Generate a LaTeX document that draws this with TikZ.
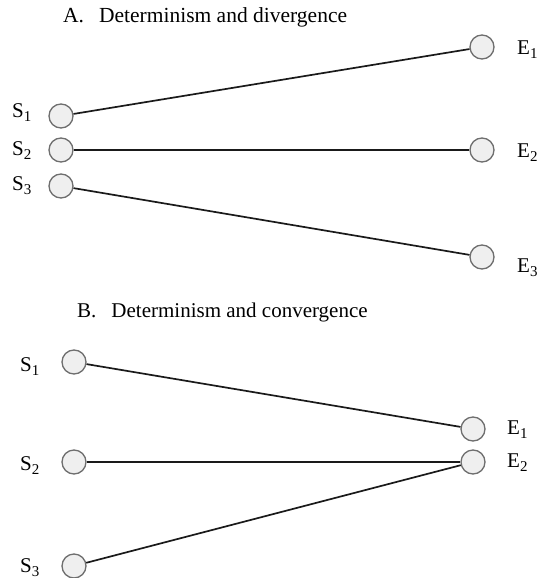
\documentclass[tikz,border=0pt]{standalone}
\usepackage{fontspec}
\setmainfont{Liberation Serif}
\usetikzlibrary{positioning}
\definecolor{ringgray}{HTML}{6E6E6E}
\definecolor{ballfill}{HTML}{EFEFEF}
\definecolor{linkdark}{HTML}{1A1A1A}
\newcommand{\lowsub}[1]{\raisebox{-4pt}{\fontsize{15}{15}\selectfont #1}}

\begin{document}
\begin{tikzpicture}[x=1pt, y=-1pt,
  ball/.style={circle, draw=ringgray, fill=ballfill, line width=1.3pt, minimum size=24pt, inner sep=0pt},
  link/.style={draw=linkdark, line width=1.7pt},
  lbl/.style={font=\fontsize{21}{25}\selectfont, inner sep=0pt, anchor=base west},
  ttl/.style={font=\fontsize{21.5}{25}\selectfont, inner sep=0pt, anchor=base west},
]
\useasboundingbox (0,0) rectangle (536,578);

% A: one start state fans out to its own end state
\node[ttl] (titleA) at (63,23) {A.\hspace{15pt}Determinism and divergence};
\foreach \i/\sy/\sb/\ey/\eb in {1/116/117/47/55, 2/150/155/150/157, 3/186/190/257/272} {
  \node[ball] (sA\i) at (61,\sy) {};
  \node[ball] (eA\i) at (482,\ey) {};
  \node[lbl] (sA\i-t) at (12,\sb) {S\lowsub{\i}};
  \node[lbl] (eA\i-t) at (517,\eb) {E\lowsub{\i}};
  \draw[link] (sA\i) -- (eA\i);
}

% B: different start states run into one end state
\node[lbl] (titleB) at (77,317) {B.\hspace{15pt}Determinism and convergence};
\foreach \i/\sy/\sb in {1/362/371, 2/462/470, 3/566/572} {
  \node[ball] (sB\i) at (74,\sy) {};
  \node[lbl] (sB\i-t) at (20,\sb) {S\lowsub{\i}};
}
\foreach \i/\ey/\eb in {1/429/434, 2/462/467} {
  \node[ball] (eB\i) at (473,\ey) {};
  \node[lbl] (eB\i-t) at (507,\eb) {E\lowsub{\i}};
}
\draw[link] (sB1) -- (eB1);
\draw[link] (sB2) -- (eB2);
\draw[link] (sB3) -- (eB2);
\end{tikzpicture}
\end{document}
